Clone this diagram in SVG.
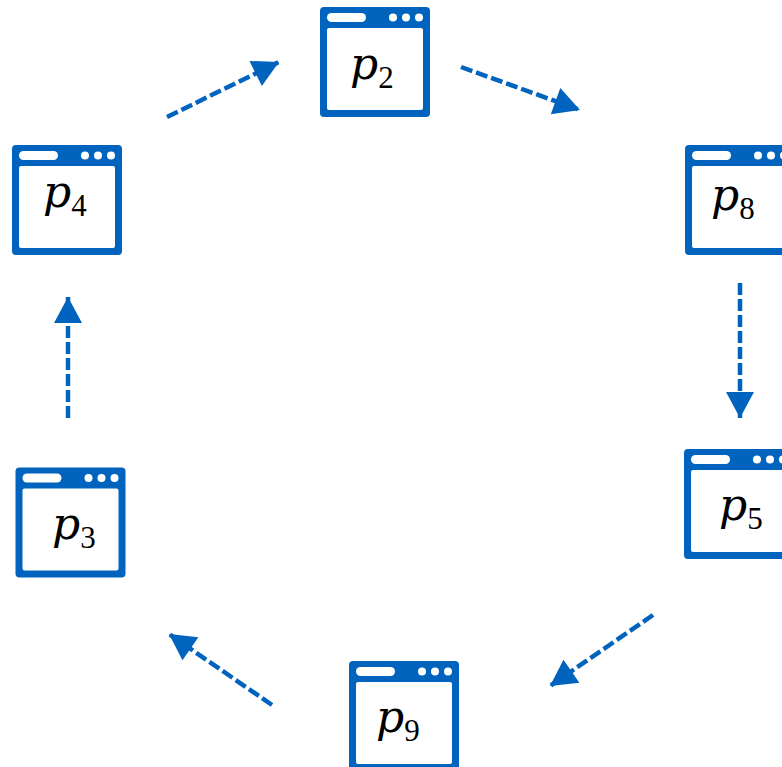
<svg xmlns="http://www.w3.org/2000/svg" width="782" height="767" viewBox="0 0 782 767">
<style>
.frame{fill:#0063be}
.pane{fill:#fff}
.lab{fill:#000;font-family:"DejaVu Serif","Liberation Serif",serif}
.p{font-size:44px;font-style:italic}
.s{font-size:31px;font-family:"Liberation Serif","DejaVu Serif",serif}
.c{fill:none;stroke:#0063be;stroke-width:4.500;stroke-dasharray:12 4;marker-end:url(#ah)}
</style>
<defs>
<marker id="ah" markerUnits="userSpaceOnUse" markerWidth="32" markerHeight="32" viewBox="0 0 32 32" refX="28" refY="16" orient="auto">
<path d="M2 2L28 16L2 30Z" fill="#0063be"/>
</marker>
<g id="win">
<rect class="frame" width="110" height="110" rx="4"/>
<rect class="pane" x="7" y="21" width="96" height="82" rx="2"/>
<rect class="pane" x="7" y="6" width="39" height="9" rx="4.5"/>
<circle class="pane" cx="73" cy="10.500" r="4"/>
<circle class="pane" cx="86" cy="10.500" r="4"/>
<circle class="pane" cx="99" cy="10.500" r="4"/>
</g>
</defs>
<rect width="782" height="767" fill="#fff"/>
<g id="connectors">
<path class="c" d="M167 117L279 62"/>
<path class="c" d="M461 67L580 110"/>
<path class="c" d="M740 283V418"/>
<path class="c" d="M653 615L550 686"/>
<path class="c" d="M272 705L169 634"/>
<path class="c" d="M68 418V297"/>
</g>
<g id="p2"><use href="#win" x="320" y="7"/><text class="lab" x="350" y="79"><tspan class="p">p</tspan><tspan class="s" dy="9">2</tspan></text></g>
<g id="p4"><use href="#win" x="12" y="145"/><text class="lab" x="43" y="207"><tspan class="p">p</tspan><tspan class="s" dy="9">4</tspan></text></g>
<g id="p8"><use href="#win" x="685" y="145"/><text class="lab" x="711" y="210"><tspan class="p">p</tspan><tspan class="s" dy="9">8</tspan></text></g>
<g id="p5"><use href="#win" x="684" y="449"/><text class="lab" x="719" y="520"><tspan class="p">p</tspan><tspan class="s" dy="9">5</tspan></text></g>
<g id="p3"><use href="#win" x="15.500" y="467.500"/><text class="lab" x="52" y="539"><tspan class="p">p</tspan><tspan class="s" dy="9">3</tspan></text></g>
<g id="p9"><use href="#win" x="349" y="661"/><text class="lab" x="376" y="732"><tspan class="p">p</tspan><tspan class="s" dy="9">9</tspan></text></g>
</svg>
